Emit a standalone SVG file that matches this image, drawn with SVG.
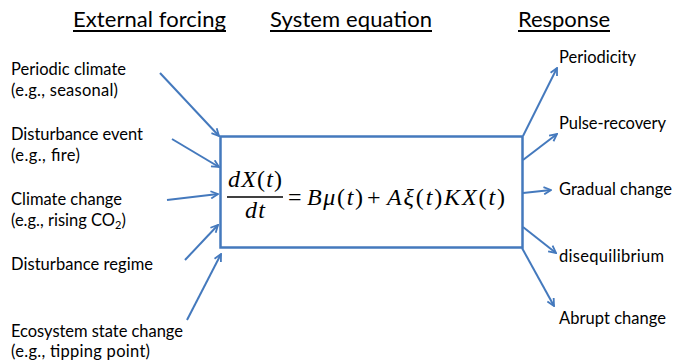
<svg xmlns="http://www.w3.org/2000/svg" width="674" height="363" viewBox="0 0 674 363">
<style>
.hdr{font-family:Lato,"Open Sans","Liberation Sans",sans-serif;font-size:22px;fill:#000}
.lbl{font-family:Lato,"Open Sans","Liberation Sans",sans-serif;font-size:16.5px;fill:#000}
.eq{font-family:"Liberation Serif","DejaVu Serif",serif;font-size:24px;font-style:italic;fill:#000}
.up{font-style:normal}
.ul{stroke:#000;stroke-width:2}
.con{stroke:#4479bd;stroke-width:2;fill:none;marker-end:url(#ah)}
.box{fill:#fff;stroke:#4479bd;stroke-width:2.5}
</style>
<defs>
<marker id="ah" viewBox="0 0 10 10" refX="9" refY="5" markerWidth="9" markerHeight="9" markerUnits="userSpaceOnUse" orient="auto">
<path d="M1,1 L9,5 L1,9" fill="none" stroke="#4479bd" stroke-width="2" stroke-linejoin="miter"/>
</marker>
</defs>
<rect width="674" height="363" fill="#fff"/>
<g id="headers">
<text class="hdr" x="73" y="27" textLength="153">External forcing</text>
<line class="ul" x1="73" y1="31" x2="226" y2="31"/>
<text class="hdr" x="270" y="27" textLength="162">System equation</text>
<line class="ul" x1="270" y1="31" x2="432" y2="31"/>
<text class="hdr" x="518" y="27" textLength="92">Response</text>
<line class="ul" x1="518" y1="31" x2="610" y2="31"/>
</g>
<g id="connectors">
<line class="con" x1="160" y1="73" x2="219" y2="136"/>
<line class="con" x1="172" y1="139" x2="219" y2="167"/>
<line class="con" x1="167" y1="200" x2="218" y2="194"/>
<line class="con" x1="185" y1="260" x2="218" y2="225"/>
<line class="con" x1="187" y1="320" x2="221" y2="254"/>
<line class="con" x1="523" y1="136" x2="557" y2="68"/>
<line class="con" x1="523" y1="160" x2="557" y2="134"/>
<line class="con" x1="523" y1="193" x2="551" y2="190"/>
<line class="con" x1="523" y1="227" x2="556" y2="253"/>
<line class="con" x1="522" y1="248" x2="554" y2="306"/>
</g>
<g id="in1"><text class="lbl" x="11" y="75" textLength="115">Periodic climate</text><text class="lbl" x="11" y="96" textLength="107">(e.g., seasonal)</text></g>
<g id="in2"><text class="lbl" x="11" y="140" textLength="132">Disturbance event</text><text class="lbl" x="11" y="161" textLength="69">(e.g., fire)</text></g>
<g id="in3"><text class="lbl" x="11" y="205" textLength="111">Climate change</text><text class="lbl" x="11" y="226">(e.g., rising CO<tspan font-size="11" dy="3">2</tspan><tspan dy="-3">)</tspan></text></g>
<g id="in4"><text class="lbl" x="11" y="270" textLength="142">Disturbance regime</text></g>
<g id="in5"><text class="lbl" x="11" y="337" textLength="172">Ecosystem state change</text><text class="lbl" x="11" y="357" textLength="139">(e.g., tipping point)</text></g>
<g id="system">
<rect class="box" x="220.5" y="136.5" width="302" height="111"/>
<text class="eq" x="228" y="187" textLength="54">dX<tspan class="up">(</tspan>t<tspan class="up">)</tspan></text>
<line x1="227" y1="197" x2="283" y2="197" stroke="#000" stroke-width="1.3"/>
<text class="eq" x="245" y="218" textLength="20">dt</text>
<text class="eq up" x="288" y="205">=</text>
<text class="eq" x="307" y="205" textLength="56">Bμ<tspan class="up">(</tspan>t<tspan class="up">)</tspan></text>
<text class="eq up" x="367" y="205">+</text>
<text class="eq" x="387" y="205" textLength="118">Aξ<tspan class="up">(</tspan>t<tspan class="up">)</tspan>KX<tspan class="up">(</tspan>t<tspan class="up">)</tspan></text>
</g>
<g id="out1"><text class="lbl" x="559" y="63" textLength="77">Periodicity</text></g>
<g id="out2"><text class="lbl" x="559" y="129" textLength="107">Pulse-recovery</text></g>
<g id="out3"><text class="lbl" x="559" y="195" textLength="113">Gradual change</text></g>
<g id="out4"><text class="lbl" x="559" y="262" textLength="105">disequilibrium</text></g>
<g id="out5"><text class="lbl" x="559" y="324" textLength="107">Abrupt change</text></g>
</svg>
